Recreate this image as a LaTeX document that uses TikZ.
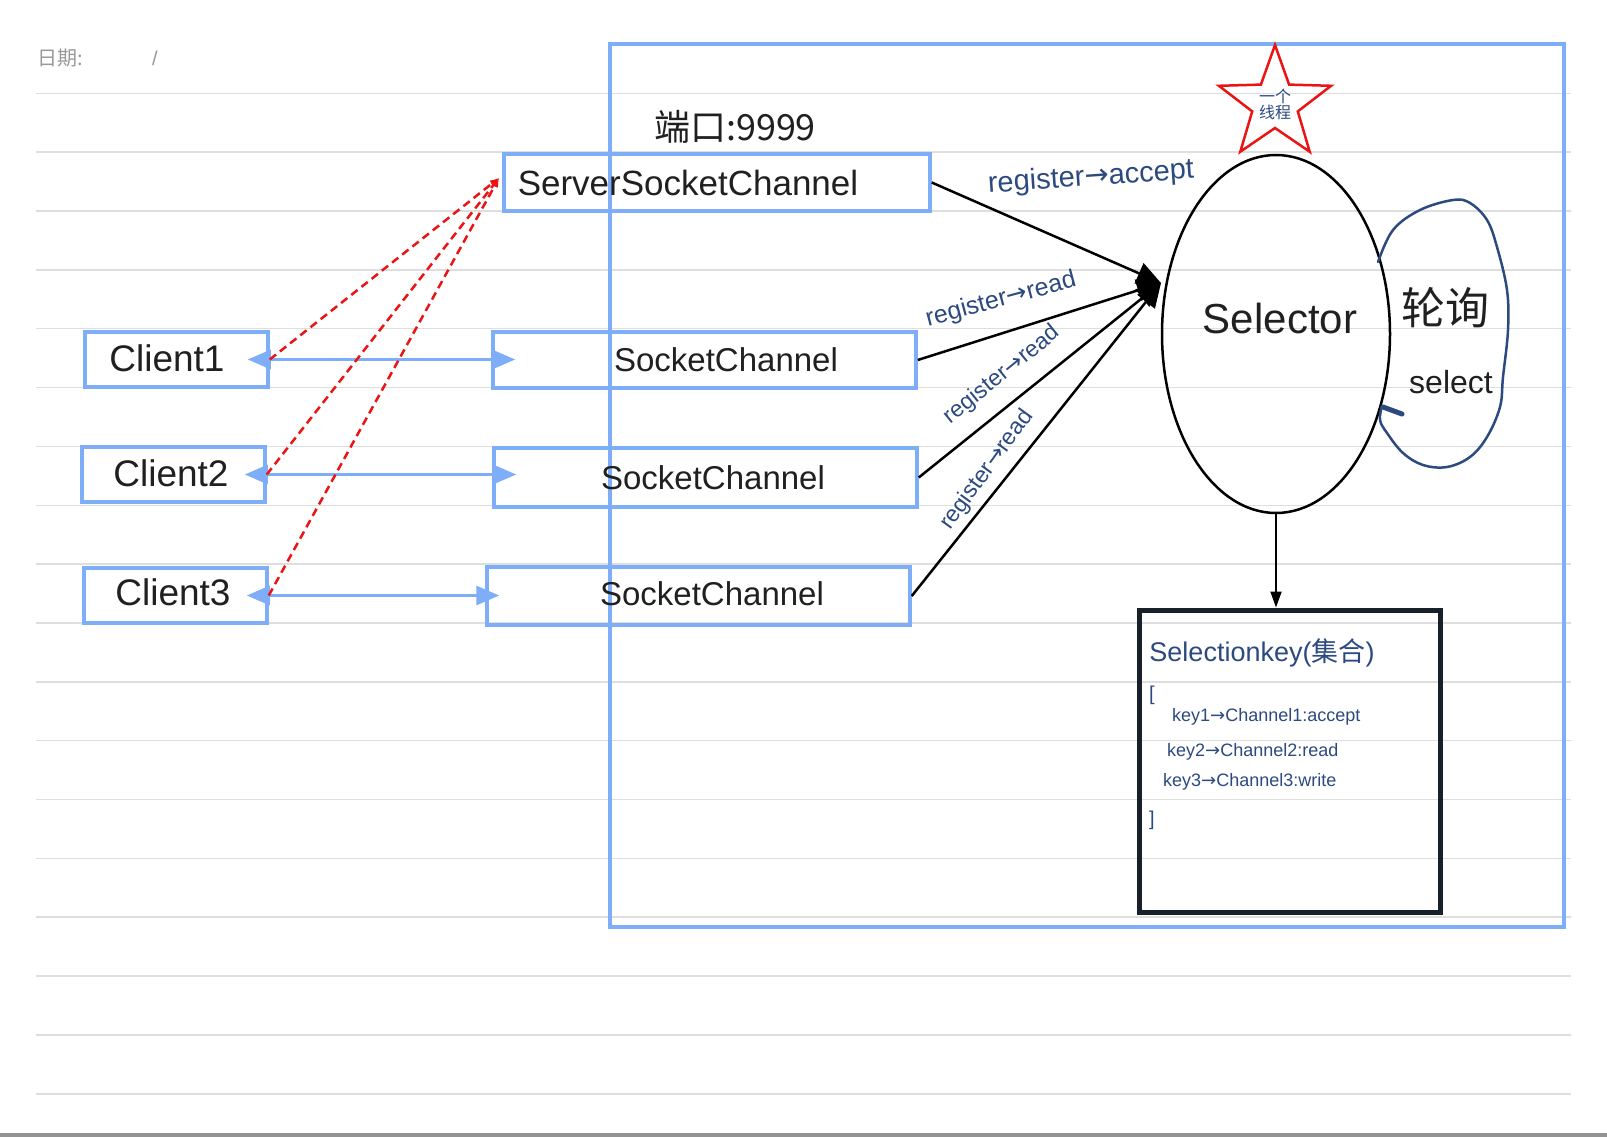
\documentclass[tikz,border=0pt]{standalone}
\usepackage{fontspec}
\setmainfont{Liberation Sans}
\newfontfamily\cjk{Noto Sans CJK SC}
\newfontfamily\dv{DejaVu Sans}
\usetikzlibrary{arrows.meta,shapes.geometric,fit}
\definecolor{bluebox}{RGB}{126,174,247}
\definecolor{ink}{RGB}{32,32,32}
\definecolor{penblue}{RGB}{44,74,128}
\definecolor{rulegray}{RGB}{222,222,222}
\definecolor{keybox}{RGB}{24,32,42}
\definecolor{redline}{RGB}{235,20,20}
\newcommand{\rarr}{{\dv →}}
\newcommand{\fsz}[1]{\fontsize{#1}{#1}\selectfont}
\begin{document}
\begin{tikzpicture}[x=1pt,y=-1pt,
  bbox/.style={draw=bluebox, line width=3.5pt, inner sep=0pt},
  hand/.style={text=ink, inner sep=0pt},
  pen/.style={text=penblue, inner sep=0pt},
  biarr/.style={draw=bluebox, line width=3pt, {Triangle[length=23pt,width=19pt]}-{Triangle[length=23pt,width=19pt]}},
  reddash/.style={draw=redline, line width=2.5pt, dash pattern=on 8pt off 5pt, -{Latex[length=9pt,width=8pt]}},
  tosel/.style={draw=black, line width=2.5pt, -{Triangle[length=24pt,width=22pt]}},
]
% canvas
\fill[white] (0,0) rectangle (1607,1137);
\useasboundingbox (0,0) rectangle (1607,1137);
\foreach \k in {0,...,17}{
  \draw[rulegray, line width=1.5pt] (36,{93.3+58.85*\k}) -- (1571,{93.3+58.85*\k});
}
\fill[gray!85] (0,1133) rectangle (1607,1137);
\node[anchor=west, text=gray!80, inner sep=0pt, font=\cjk\fsz{20pt}] (date) at (37,58) {日期:};
\node[text=gray!80, inner sep=0pt, font=\fsz{20pt}] (slash) at (155,58) {/};

% server area
\node[draw=bluebox, line width=4pt, inner sep=0pt, fit={(610,44)(1564,927)}] (server) {};
\node[hand, font=\cjk\fsz{36pt}] (port) at (735,127) {端口:9999};

% boxes
\node[bbox, fit={(504,154)(930,211)}] (ssc) {};
\node[bbox, fit={(85,332)(268,387)}] (c1) {};
\node[bbox, fit={(82,447)(265,502)}] (c2) {};
\node[bbox, fit={(84,568)(267,623)}] (c3) {};
\node[bbox, fit={(493,332)(916,388)}] (sc1) {};
\node[bbox, fit={(494,448)(917,507)}] (sc2) {};
\node[bbox, fit={(487,567)(910,625)}] (sc3) {};

\node[hand, font=\fsz{35pt}] (tssc) at (688,183) {ServerSocketChannel};
\node[hand, font=\fsz{37pt}] (tc1) at (167,358) {Client1};
\node[hand, font=\fsz{37pt}] (tc2) at (171,473) {Client2};
\node[hand, font=\fsz{37pt}] (tc3) at (173,592) {Client3};
\node[hand, font=\fsz{33pt}] (tsc1) at (726,360) {SocketChannel};
\node[hand, font=\fsz{33pt}] (tsc2) at (713,478) {SocketChannel};
\node[hand, font=\fsz{33pt}] (tsc3) at (712,594) {SocketChannel};

% client <-> socketchannel
\draw[biarr] ([xshift=-22pt]c1.east) -- ([xshift=24pt]c1.east -| sc1.west);
\draw[biarr] ([xshift=-22pt]c2.east) -- ([xshift=24pt]c2.east -| sc2.west);
\draw[biarr] ([xshift=-22pt]c3.east) -- ([xshift=14pt]c3.east -| sc3.west);

% red dashed connects
\coordinate (sscin) at (499,178);
\draw[reddash] (c1.east) -- (sscin);
\draw[reddash] (c2.east) -- (sscin);
\draw[reddash] (c3.east) -- (sscin);

% selector
\node[ellipse, draw=black, line width=2.5pt, minimum width=228pt, minimum height=358pt, inner sep=0pt] (sel) at (1276,334) {};
\node[hand, font=\fsz{42pt}] (tsel) at (1280,318) {Selector};

% star
\draw[redline, line width=2.5pt, line join=miter] (1275,45) -- (1289.1,84.6) -- (1331.1,85.8) -- (1297.8,111.4) -- (1309.7,151.7) -- (1275,128) -- (1240.3,151.7) -- (1252.2,111.4) -- (1218.9,85.8) -- (1260.9,84.6) -- cycle;
\node[pen, align=center, font=\cjk\fsz{16pt}] (thread) at (1275,104) {一个\\[0pt]线程};

% channels -> selector
\coordinate (hub) at (1161,283);
\draw[tosel] (ssc.east) -- (hub);
\draw[tosel] (sc1.east) -- (hub);
\draw[tosel] (sc2.east) -- (hub);
\draw[tosel] (sc3.east) -- (hub);
\node[pen, font=\fsz{29pt}, rotate=4] (lacc) at (1091,178) {register\rarr accept};
\node[pen, font=\fsz{25pt}, rotate=15] (lr1) at (1001,300) {register\rarr read};
\node[pen, font=\fsz{23pt}, rotate=39] (lr2) at (1002,375) {register\rarr read};
\node[pen, font=\fsz{23pt}, rotate=54] (lr3) at (987,470) {register\rarr read};

% polling loop
\draw[penblue, line width=2.5pt, line cap=round] plot[smooth, tension=0.6] coordinates {
  (1378,262) (1393,230) (1420,210) (1453,200) (1470,203) (1487,220) (1497,247)
  (1507,290) (1508,330) (1503,377) (1500,407) (1487,437) (1470,457) (1447,467)
  (1423,465) (1403,453) (1387,433) (1380,420) (1382,406)};
\draw[penblue, line width=5pt, line cap=round] (1383,407) -- (1402,414);
\node[hand, font=\cjk\fsz{44pt}] (poll) at (1445,308) {轮询};
\node[hand, font=\fsz{32pt}] (tselect) at (1451,382) {select};

% selection keys
\node[draw=keybox, line width=5pt, inner sep=0pt, fit={(1139,610)(1440,912)}] (skey) {};
\draw[draw=black, line width=2pt, -{Triangle[length=16pt,width=11pt]}] (sel.south) -- (sel.south |- skey.north);
\node[pen, font=\fsz{27pt}] (tkey) at (1262,653) {Selectionkey({\cjk 集合})};
\node[pen, font=\fsz{20pt}] (lb) at (1152,695) {[};
\node[pen, anchor=west, font=\fsz{18pt}] (k1) at (1172,717) {key1\rarr Channel1:accept};
\node[pen, anchor=west, font=\fsz{18pt}] (k2) at (1167,752) {key2\rarr Channel2:read};
\node[pen, anchor=west, font=\fsz{18pt}] (k3) at (1163,782) {key3\rarr Channel3:write};
\node[pen, font=\fsz{20pt}] (rb) at (1152,820) {]};
\end{tikzpicture}
\end{document}
